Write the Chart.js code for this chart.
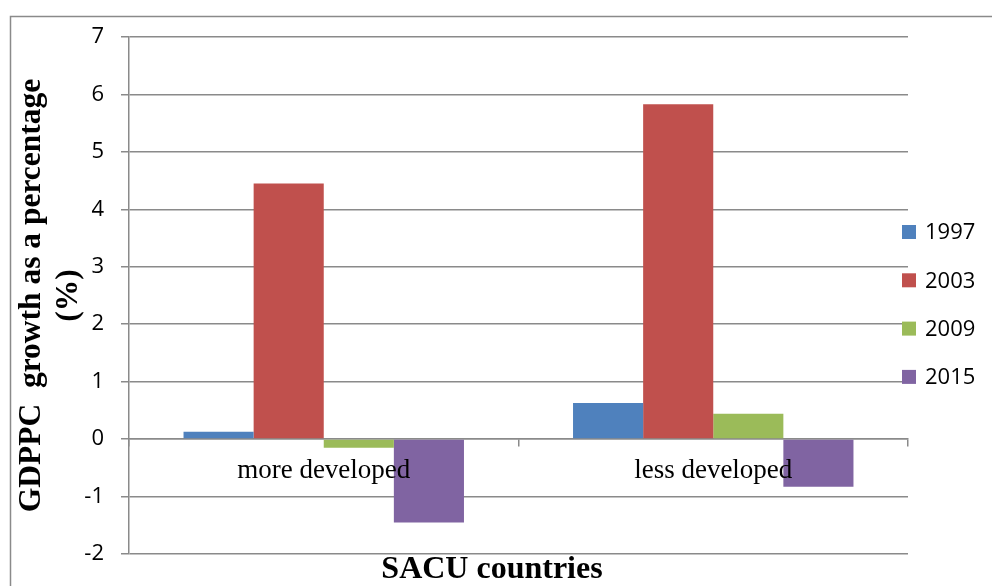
<!DOCTYPE html>
<html>
<head>
<meta charset="utf-8">
<script src="https://cdn.jsdelivr.net/npm/chart.js@4/dist/chart.umd.min.js"></script>
<style>
  html, body { margin: 0; padding: 0; background: #ffffff; }
  #wrap { width: 992px; height: 586px; }
</style>
</head>
<body>
<div id="wrap"><canvas id="chart" width="992" height="586"></canvas></div>
<script>
// GDP per capita growth by group of SACU countries
const categories = ['more developed', 'less developed'];
const seriesNames = ['1997', '2003', '2009', '2015'];
const growth1997 = [0.13, 0.63];
const growth2003 = [4.45, 5.83];
const growth2009 = [-0.15, 0.44];
const growth2015 = [-1.45, -0.83];
const yTicks = [-2, -1, 0, 1, 2, 3, 4, 5, 6, 7];

const seriesColors = ['#4F81BD', '#C0504D', '#9BBB59', '#8064A2'];
const gridGray = '#8a8a8a';
const sansFont = "'Open Sans', 'Noto Sans', sans-serif";
const serifFont = "'Liberation Serif', 'Times New Roman', serif";

const seriesValues = [growth1997, growth2003, growth2009, growth2015];

// Outer frame of the chart object
const framePlugin = {
  id: 'frame',
  beforeDraw(chart) {
    const ctx = chart.ctx;
    ctx.save();
    ctx.fillStyle = '#ffffff';
    ctx.fillRect(0, 0, chart.width, chart.height);
    ctx.strokeStyle = gridGray;
    ctx.lineWidth = 1.5;
    ctx.strokeRect(10.5, 16.5, chart.width + 20, chart.height + 20);
    ctx.restore();
  }
};

// Legend at the right, overlapping the end of the plot area
const sideLegendPlugin = {
  id: 'sideLegend',
  afterDraw(chart) {
    const ctx = chart.ctx;
    const boxX = 902, box = 14, textX = 925, firstY = 232, step = 48.3;
    ctx.save();
    ctx.font = '22px ' + sansFont;
    ctx.textBaseline = 'middle';
    ctx.textAlign = 'left';
    chart.data.datasets.forEach((ds, i) => {
      const cy = firstY + i * step;
      ctx.fillStyle = ds.backgroundColor;
      ctx.fillRect(boxX, cy - box / 2, box, box);
      ctx.fillStyle = '#000000';
      ctx.fillText(ds.label, textX, cy + 1);
    });
    ctx.restore();
  }
};

new Chart(document.getElementById('chart'), {
  type: 'bar',
  data: {
    labels: categories,
    datasets: seriesNames.map((name, i) => ({
      label: name,
      data: seriesValues[i],
      backgroundColor: seriesColors[i],
      borderWidth: 0,
      categoryPercentage: 0.72,
      barPercentage: 1.0
    }))
  },
  options: {
    responsive: false,
    animation: false,
    devicePixelRatio: 1,
    layout: { padding: { left: 10, right: 18, top: 37, bottom: 0 } },
    plugins: {
      legend: { display: false },
      tooltip: { enabled: false },
      title: {
        display: true,
        position: 'bottom',
        text: 'SACU countries',
        color: '#000000',
        padding: { top: 0, bottom: 0 },
        font: { family: serifFont, size: 32, weight: 'bold', lineHeight: 1.0 }
      }
    },
    scales: {
      x: {
        type: 'category',
        position: { y: 0 },
        offset: true,
        grid: {
          display: true,
          drawOnChartArea: false,
          drawTicks: true,
          tickLength: 7,
          color: gridGray,
          lineWidth: 1.5
        },
        border: { display: true, color: gridGray, width: 1.5 },
        ticks: {
          z: 1,
          color: '#000000',
          padding: 9,
          font: { family: serifFont, size: 27, lineHeight: 1.2 }
        }
      },
      y: {
        min: -2,
        max: 7,
        afterBuildTicks(scale) { scale.ticks = yTicks.map(v => ({ value: v })); },
        grid: {
          color: gridGray,
          lineWidth: 1.5,
          drawTicks: true,
          tickLength: 8
        },
        border: { display: true, color: gridGray, width: 1.5 },
        ticks: {
          color: '#000000',
          padding: 17,
          font: { family: sansFont, size: 22 }
        },
        title: {
          display: true,
          text: ['GDPPC  growth as a percentage', '(%)'],
          color: '#000000',
          padding: { top: 3, bottom: 0 },
          font: { family: serifFont, size: 31.5, weight: 'bold', lineHeight: 1.18 }
        },
        afterFit(scale) { scale.width = 119; }
      },
      // empty strip to the right of the plot where the legend sits
      legendSpace: {
        type: 'linear',
        position: 'right',
        display: true,
        grid: { display: false, drawTicks: false },
        border: { display: false },
        ticks: { display: false },
        afterFit(scale) { scale.width = 66; }
      }
    }
  },
  plugins: [framePlugin, sideLegendPlugin]
});
</script>
</body>
</html>
